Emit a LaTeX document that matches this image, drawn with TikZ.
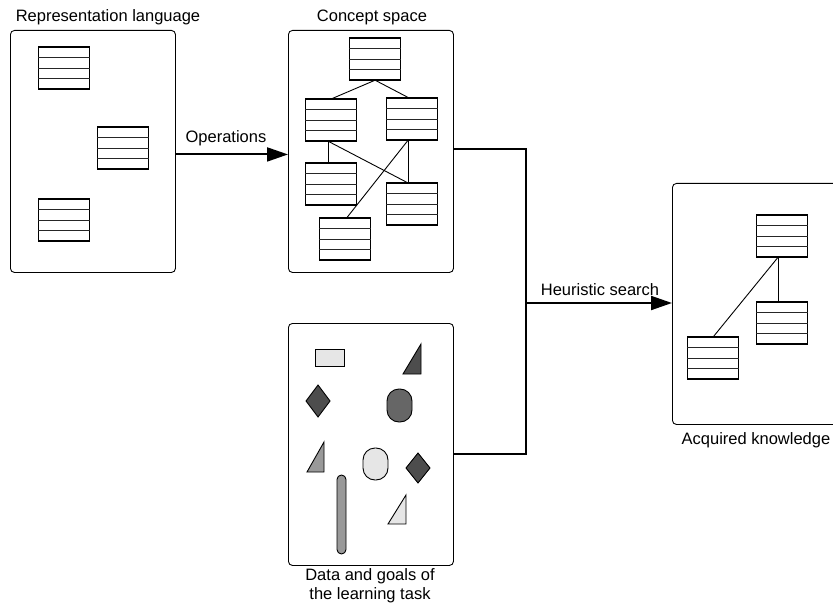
\documentclass[tikz,border=0pt]{standalone}
\usepackage{fontspec}
\setmainfont{Liberation Sans}
\usetikzlibrary{arrows.meta,calc}
\definecolor{darkfill}{HTML}{4D4D4D}
\definecolor{ovalfill}{HTML}{666666}
\definecolor{midfill}{HTML}{999999}
\definecolor{lightfill}{HTML}{E6E6E6}
\tikzset{
 panel/.style={draw, rounded corners=4pt, line width=0.9pt, minimum width=165pt, minimum height=242pt, inner sep=0pt, anchor=north west},
 tblbox/.style={draw, line width=1.2pt, minimum width=51pt, minimum height=41pt, inner sep=0pt, anchor=north west},
 tblrule/.style={line width=1pt, black!85},
 tbledge/.style={line width=2pt},
 link/.style={line width=0.9pt},
 conn/.style={line width=2pt},
 arr/.style={conn, -{Triangle[length=21pt,width=14pt]}},
 lbl/.style={font=\fontsize{16.5}{19}\selectfont, inner sep=0pt, align=center},
 shp/.style={draw, line width=0.9pt},
}
\newcommand\tbl[3]{%
 \node[tblbox] (#1) at (#2,#3) {};
 \foreach \k in {1,2,3} {\draw[tblrule] ($(#1.north west)!\k/4!(#1.south west)$) -- ($(#1.north east)!\k/4!(#1.south east)$);}
 \draw[tbledge] (#1.north west) -- (#1.north east);
 \draw[tbledge] (#1.south west) -- (#1.south east);}
\begin{document}
\begin{tikzpicture}[x=1pt,y=-1pt]
\useasboundingbox (0,0) rectangle (833,607);
\clip (0,0) rectangle (833,607);
% panels
\node[panel] (rep) at (10,30) {};
\node[panel] (concept) at (288,30) {};
\node[panel] (data) at (288,323) {};
\node[panel, minimum height=241pt] (acq) at (672,183) {};
% labels
\node[lbl] (replbl) at (108,17) {Representation language};
\node[lbl] (conlbl) at (372,17) {Concept space};
\node[lbl] (datalbl) at (370,586) {Data and goals of\\the learning task};
\node[lbl] (acqlbl) at (756,440) {Acquired knowledge};
\node[lbl] (oplbl) at (226,138) {Operations};
\node[lbl] (heulbl) at (600,290) {Heuristic search};
% representation language tables
\tbl{r1}{38}{47}
\tbl{r2}{97}{127}
\tbl{r3}{38}{199}
% concept space tables
\tbl{ctop}{349}{38}
\tbl{cml}{305}{99}
\tbl{cmr}{386}{98}
\tbl{cbl}{305}{163}
\tbl{cbr}{386}{183}
\tbl{cbot}{319}{218}
\draw[link] (ctop.south) -- (cml.north);
\draw[link] (ctop.south) -- ([xshift=-3pt]cmr.north);
\draw[link] ([xshift=-3pt]cml.south) -- ([xshift=-3pt]cbl.north);
\draw[link] ([xshift=-3pt]cml.south) -- ([xshift=-4pt]cbr.north);
\draw[link] ([xshift=-4pt]cmr.south) -- ([xshift=-4pt]cbr.north);
\draw[link] ([xshift=-4pt]cmr.south) -- ([xshift=1.5pt]cbot.north);
% acquired knowledge tables
\tbl{a1}{756}{215}
\tbl{a2}{756}{302}
\tbl{a3}{687}{337}
\draw[link] ([xshift=-4pt]a1.south) -- ([xshift=-4pt]a2.north);
\draw[link] ([xshift=-4pt]a1.south) -- (a3.north);
% data shapes
\node[shp, fill=lightfill, minimum width=29pt, minimum height=17pt, inner sep=0pt] (s1) at (329.5,357.5) {};
\draw[shp, fill=darkfill] (403,374) -- (421,374) -- (421,344) -- cycle;
\draw[shp, fill=darkfill] (318,385) -- (330,401) -- (318,417) -- (306,401) -- cycle;
\draw[shp, fill=ovalfill, rounded corners=12pt] (387,389) rectangle (412,422);
\draw[shp, fill=midfill] (307,472) -- (324,472) -- (324,442) -- cycle;
\draw[shp, fill=lightfill, rounded corners=12pt] (363,448) rectangle (388,480);
\draw[shp, fill=darkfill] (418,453) -- (430,468) -- (418,483) -- (406,468) -- cycle;
\draw[shp, fill=midfill, rounded corners=4.5pt] (337,475) rectangle (346,554);
\draw[shp, fill=lightfill] (388,524) -- (406,524) -- (406,495) -- cycle;
% connectors
\coordinate (j) at (526,303);
\draw[arr] ([yshift=-3pt]rep.east) -- ([yshift=-3pt]concept.west);
\draw[conn] ([yshift=2pt]concept.east) -| (j) |- ([yshift=-10pt]data.east);
\draw[arr] (j) -- (j -| acq.west);
\end{tikzpicture}
\end{document}
